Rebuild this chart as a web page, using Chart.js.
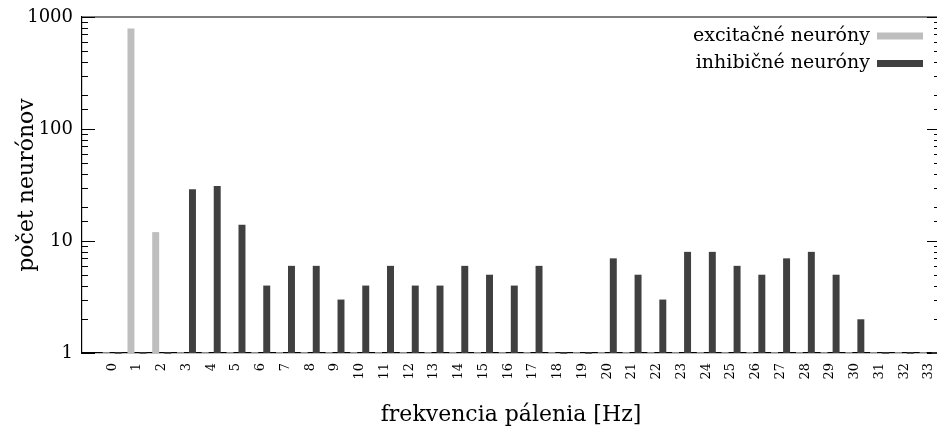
<!DOCTYPE html>
<html>
<head>
<meta charset="utf-8">
<script src="https://cdn.jsdelivr.net/npm/chart.js@4/dist/chart.umd.min.js"></script>
<style>
  html, body { margin: 0; padding: 0; overflow: hidden; background: #fff; }
  #wrap { width: 940px; height: 428px; }
</style>
</head>
<body>
<div id="wrap"><canvas id="chart" width="940" height="428"></canvas></div>
<script>
// firing rate bins (Hz)
const freqLabels = ['0','1','2','3','4','5','6','7','8','9','10','11','12','13','14','15','16',
  '17','18','19','20','21','22','23','24','25','26','27','28','29','30','31','32','33'];

// neuron counts per bin
const excitatory = [0, 788, 12, 0, 0, 0, 0, 0, 0, 0, 0, 0, 0, 0, 0, 0, 0,
  0, 0, 0, 0, 0, 0, 0, 0, 0, 0, 0, 0, 0, 0, 0, 0, 0];
const inhibitory = [0, 0, 0, 29, 31, 14, 4, 6, 6, 3, 4, 6, 4, 4, 6, 5, 4,
  6, 0, 0, 7, 5, 3, 8, 8, 6, 5, 7, 8, 5, 2, 0, 0, 0];

const yTickLabels = [1, 10, 100, 1000];

const seriesNames = ['excitačné neuróny', 'inhibičné neuróny'];
const seriesColors = ['#bebebe', '#404040'];

const FONT = 'DejaVu Serif';
Chart.defaults.font.family = FONT;
Chart.defaults.color = '#000';

// inward ticks on both sides, top frame line, zero-height bars, legend
const framePlugin = {
  id: 'frame',
  afterDraw(chart) {
    const { ctx, chartArea: a } = chart;
    const y = chart.scales.y;
    ctx.save();
    ctx.strokeStyle = '#000';
    ctx.lineWidth = 1.2;
    ctx.beginPath();
    ctx.moveTo(a.left, a.top);
    ctx.lineTo(a.right, a.top);
    y.ticks.forEach(t => {
      const py = Math.round(y.getPixelForValue(t.value)) + 0.5;
      const major = Number.isInteger(Math.log10(t.value));
      const len = major ? 13 : 6;
      ctx.moveTo(a.left, py);
      ctx.lineTo(a.left + len, py);
      ctx.moveTo(a.right, py);
      ctx.lineTo(a.right - len, py);
    });
    ctx.stroke();

    // bins with no neurons show as flat bars on the baseline
    chart.data.datasets.forEach((ds, di) => {
      const meta = chart.getDatasetMeta(di);
      ctx.strokeStyle = ds.backgroundColor;
      ctx.lineWidth = 1.5;
      ds.data.forEach((v, i) => {
        const el = meta.data[i];
        if (v !== 0 || !el || !isFinite(el.x)) return;
        ctx.beginPath();
        ctx.moveTo(el.x - el.width / 2, a.bottom);
        ctx.lineTo(el.x + el.width / 2, a.bottom);
        ctx.stroke();
      });
    });

    // legend: text right-aligned, swatch on the right
    ctx.font = '19px ' + FONT;
    ctx.textAlign = 'right';
    ctx.textBaseline = 'middle';
    chart.data.datasets.forEach((ds, di) => {
      const cy = 36 + di * 27.5;
      ctx.fillStyle = '#000';
      ctx.fillText(ds.label, 870, cy);
      ctx.fillStyle = ds.backgroundColor;
      ctx.fillRect(877, cy - 3.5, 46, 7);
    });
    ctx.restore();
  }
};

new Chart(document.getElementById('chart'), {
  type: 'bar',
  data: {
    labels: freqLabels,
    datasets: [
      { label: seriesNames[0], data: excitatory, backgroundColor: seriesColors[0] },
      { label: seriesNames[1], data: inhibitory, backgroundColor: seriesColors[1] }
    ]
  },
  options: {
    responsive: false,
    animation: false,
    categoryPercentage: 0.97,
    barPercentage: 0.58,
    layout: { padding: { top: 17, left: 0, right: 0, bottom: 0 } },
    plugins: {
      legend: { display: false },
      tooltip: { enabled: false }
    },
    scales: {
      x: {
        type: 'linear',
        offset: false,
        min: -1.22,
        max: 33.44,
        grid: { display: false, drawTicks: false },
        border: { display: true, color: '#000', width: 1.2 },
        afterBuildTicks(scale) {
          scale.ticks = freqLabels.map(v => ({ value: +v }));
        },
        afterFit(scale) {
          scale.height = 75;
          scale.paddingLeft = 0;
          scale.paddingRight = 0;
        },
        ticks: {
          autoSkip: false,
          minRotation: 90,
          maxRotation: 90,
          padding: 10,
          font: { size: 13 }
        },
        title: {
          display: true,
          text: 'frekvencia pálenia [Hz]',
          font: { size: 22 },
          padding: { top: 2, bottom: 0 }
        }
      },
      y: {
        type: 'logarithmic',
        min: 1,
        max: 1000,
        grid: { display: false, drawTicks: false },
        border: { display: true, color: '#000', width: 1.2 },
        afterFit(scale) {
          scale.width = 82;
          scale.paddingTop = 0;
          scale.paddingBottom = 0;
        },
        ticks: {
          autoSkip: false,
          padding: 9,
          font: { size: 18 },
          callback: v => yTickLabels.includes(v) ? String(v) : ''
        },
        title: {
          display: true,
          text: 'počet neurónov',
          font: { size: 22 },
          padding: { top: 14, bottom: 0 }
        }
      }
    }
  },
  plugins: [framePlugin]
});
</script>
</body>
</html>
